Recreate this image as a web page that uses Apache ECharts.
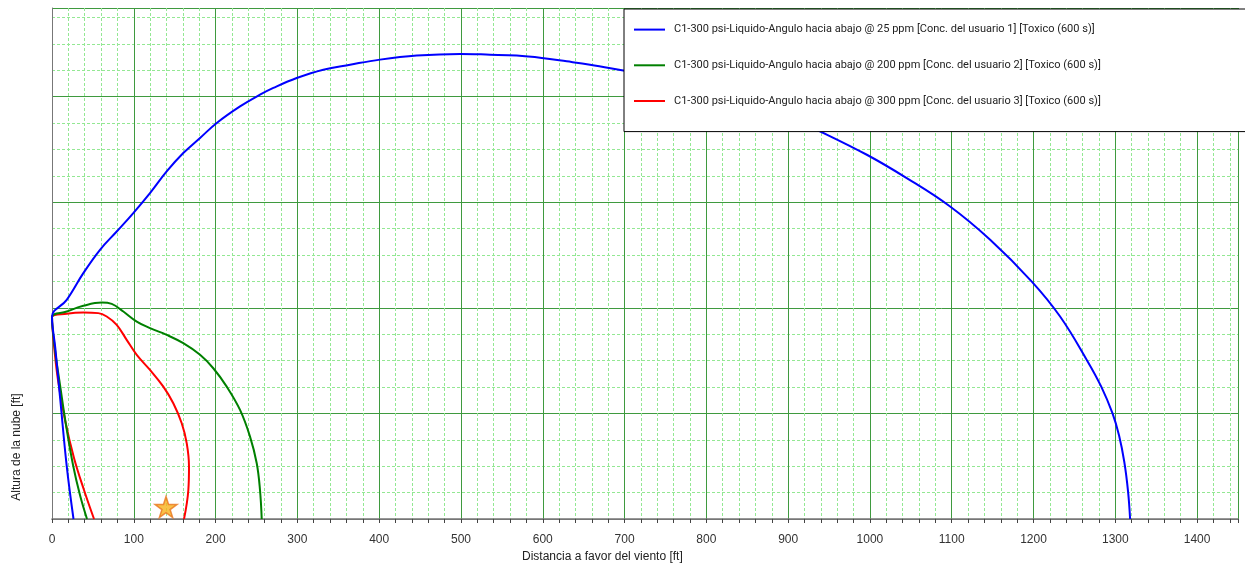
<!DOCTYPE html>
<html>
<head>
<meta charset="utf-8">
<script src="https://cdn.jsdelivr.net/npm/echarts@6/dist/echarts.min.js"></script>
<style>
    html, body { margin: 0; padding: 0; background: #fff; }
    #chart { width: 1245px; height: 566px; }
</style>
</head>
<body>
<div id="chart"></div>
<script>
// nombres de las series
const seriesNames = [
    'C1-300 psi-Liquido-Angulo hacia abajo @ 25 ppm [Conc. del usuario 1] [Toxico (600 s)]',
    'C1-300 psi-Liquido-Angulo hacia abajo @ 200 ppm [Conc. del usuario 2] [Toxico (600 s)]',
    'C1-300 psi-Liquido-Angulo hacia abajo @ 300 ppm [Conc. del usuario 3] [Toxico (600 s)]'
];

// contorno 25 ppm: rama inferior -> fuente -> rama superior  [distancia ft, altura]
const blue25 = [
    [26.3, 0], [18, 5], [10, 11.4], [4, 16.2], [0, 19.15],
    [18, 20.76], [38.3, 23.29], [58.7, 25.5], [79.1, 27.23], [99.4, 28.98],
    [119.8, 30.87], [140.2, 32.92], [160.5, 34.66], [181, 36.09], [201.4, 37.51],
    [229.9, 39.08], [254.3, 40.19], [270.6, 40.83], [299.2, 41.77], [331.7, 42.56],
    [364.4, 43.03], [401, 43.51], [445.9, 43.89], [498.9, 44.05], [535.5, 43.98],
    [568.2, 43.89], [598.8, 43.67], [629.3, 43.35], [657.8, 43.03], [698.5, 42.49],
    [743.4, 41.9], [792.3, 41.04], [841.2, 39.91], [890.1, 38.48], [935, 36.87],
    [996.2, 34.5], [1045, 32.29], [1098, 29.6], [1147, 26.45], [1197.9, 22.49],
    [1232.5, 19.18], [1265.1, 15.07], [1282.8, 12.54], [1296.5, 10.02], [1304.6, 7.9],
    [1311, 5.4], [1315.6, 2.6], [1318.1, 0]
];

// contorno 200 ppm
const green200 = [
    [42.8, 0], [34.2, 2.27], [25.7, 5.12], [17.1, 8.91], [9.8, 12.7], [3.7, 16.02], [0, 19.1],
    [18, 19.65], [38.3, 20.19], [60.8, 20.5], [73, 20.38], [87.2, 19.65], [103.6, 18.7],
    [119.8, 18.08], [140.2, 17.44], [160.5, 16.65], [181, 15.55], [197.2, 14.28],
    [213.6, 12.54], [229.9, 10.33], [242.1, 7.8], [250.3, 5.28], [254.3, 2.75], [256.4, 0]
];

// contorno 300 ppm
const red300 = [
    [51.4, 0], [39.1, 2.75], [26.9, 5.78], [15.9, 9.38], [7.3, 13.18], [2.4, 16.49], [0, 19.1],
    [18, 19.43], [38.3, 19.55], [56.6, 19.5], [66.9, 19.18], [79.1, 18.39], [91.3, 16.97],
    [103.6, 15.55], [119.8, 14.12], [136.1, 12.54], [148.3, 10.97], [158.6, 9.07],
    [164.7, 7.18], [167.5, 4.96], [166.7, 2.75], [161.4, 0]
];

// punto de emision (estrella)
const sourcePoint = [[139.4, 1.14]];

const seriesColors = ['#0000ff', '#008000', '#ff0000'];
const curves = [blue25, green200, red300];

const starPath = 'path://M50,0 L61,35 L98,35 L68,57 L79,91 L50,70 L21,91 L32,57 L2,35 L39,35 Z';
const majorColor = '#3f9a3f';
const minorColor = '#93e893';
const fontName = '"Liberation Sans", Arial, sans-serif';
const legendFont = 'Roboto, "Liberation Sans", sans-serif';

const myChart = echarts.init(document.getElementById('chart'));

const series = curves.map(function(data, i) {
    return {
        name: seriesNames[i],
        type: 'line',
        data: data,
        symbol: 'none',
        smooth: 0.4,
        lineStyle: { width: 2, color: seriesColors[i] },
        itemStyle: { color: seriesColors[i] },
        z: 3 - i
    };
});
series.push({
    type: 'scatter',
    data: sourcePoint,
    symbol: starPath,
    symbolSize: [22, 21],
    itemStyle: { color: '#f7b21b', borderColor: '#e8761e', borderWidth: 1.5 },
    z: 5
});

const option = {
    animation: false,
    backgroundColor: '#fff',
    grid: { left: 52, right: 7, top: 8, bottom: 47, outerBoundsMode: 'none', containLabel: false },
    legend: {
        data: seriesNames,
        orient: 'vertical',
        left: 624,
        top: 9,
        padding: [15, 400, 25, 9],
        itemWidth: 31,
        itemHeight: 14,
        itemGap: 24.5,
        backgroundColor: '#fff',
        borderColor: '#000',
        borderWidth: 1,
        borderRadius: 0,
        z: 10,
        itemStyle: { opacity: 0 },
        lineStyle: { width: 2 },
        textStyle: { fontFamily: legendFont, fontSize: 11, color: '#222', padding: [0, 0, 0, 4] }
    },
    xAxis: [{
        // rejilla menor (cada 20 ft) + borde superior
        type: 'value', position: 'top', min: 0, max: 1450, interval: 20,
        axisLine: { show: true, lineStyle: { color: '#777', width: 1 } },
        axisTick: { show: false }, axisLabel: { show: false },
        splitLine: { show: true, lineStyle: { color: minorColor, type: [3, 2], width: 1 } }
    }, {
        type: 'value', position: 'bottom', min: 0, max: 1450, interval: 100,
        axisLine: { show: true, onZero: false, lineStyle: { color: '#777', width: 1.5 } },
        axisTick: { show: true, length: 4, lineStyle: { color: '#444' } },
        minorTick: { show: true, splitNumber: 5, length: 4, lineStyle: { color: '#444' } },
        axisLabel: {
            margin: 15, color: '#333', fontFamily: fontName, fontSize: 12,
            showMaxLabel: false,
            formatter: function(v) { return String(v); }
        },
        splitLine: { show: true, lineStyle: { color: majorColor, width: 1 } }
    }],
    yAxis: [{
        // rejilla menor + borde derecho
        type: 'value', position: 'right', min: 0, max: 48.4, interval: 2.5,
        axisLine: { show: true, lineStyle: { color: '#777', width: 1 } },
        axisTick: { show: false }, axisLabel: { show: false },
        splitLine: { show: true, lineStyle: { color: minorColor, type: [3, 2], width: 1 } }
    }, {
        type: 'value', position: 'left', min: 0, max: 48.4, interval: 10,
        axisLine: { show: false }, axisTick: { show: false }, axisLabel: { show: false },
        splitLine: { show: true, lineStyle: { color: majorColor, width: 1 } }
    }],
    graphic: [{
        type: 'text',
        left: 522, top: 551,
        style: { text: 'Distancia a favor del viento [ft]', fill: '#222', font: '12px ' + fontName }
    }, {
        type: 'text',
        x: 17, y: 447,
        rotation: Math.PI / 2,
        style: {
            text: 'Altura de la nube [ft]', fill: '#222', font: '12px ' + fontName,
            align: 'center', verticalAlign: 'middle'
        }
    }],
    series: series
};

myChart.setOption(option);
</script>
</body>
</html>
